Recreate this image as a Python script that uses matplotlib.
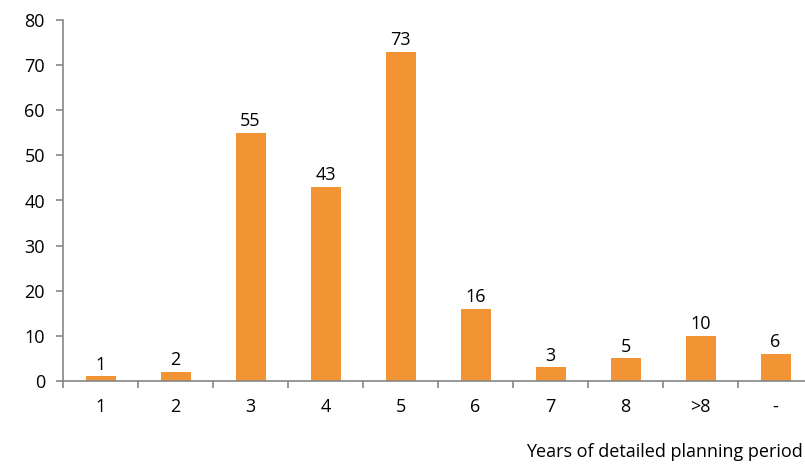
import matplotlib.pyplot as plt
from matplotlib.ticker import FixedLocator, NullFormatter

categories = ["1", "2", "3", "4", "5", "6", "7", "8", ">8", "-"]
counts = [1, 2, 55, 43, 73, 16, 3, 5, 10, 6]
y_ticks = [0, 10, 20, 30, 40, 50, 60, 70, 80]

plt.rcParams['font.family'] = ['Open Sans', 'DejaVu Sans']
axis_grey = "#868686"
bar_orange = "#F39434"
fs = 13

fig = plt.figure(figsize=(8.05, 4.65), dpi=100)
ax = fig.add_axes([63 / 805, 84 / 465, 742 / 805, 361 / 465])

x = list(range(len(categories)))
ax.bar(x, counts, width=0.4, color=bar_orange)

for xi, v in zip(x, counts):
    ax.annotate(str(v), (xi, v), xytext=(0, 2), textcoords="offset points",
                ha="center", va="bottom", fontsize=fs)

ax.set_xlim(-0.5, -0.5 + 742 / 75)
ax.set_ylim(0, 80)
ax.set_yticks(y_ticks)

# category labels centred, tick marks between categories
ax.set_xticks(x)
ax.set_xticklabels(categories, fontsize=fs)
ax.xaxis.set_minor_locator(FixedLocator([i - 0.5 for i in range(len(categories) + 1)]))
ax.xaxis.set_minor_formatter(NullFormatter())
ax.tick_params(axis="x", which="major", length=0, pad=12)
ax.tick_params(axis="x", which="minor", length=5, color=axis_grey, width=1.2)
ax.tick_params(axis="y", length=5, color=axis_grey, width=1.2, labelsize=fs, pad=8)

for side in ("top", "right"):
    ax.spines[side].set_visible(False)
for side in ("left", "bottom"):
    ax.spines[side].set_color(axis_grey)
    ax.spines[side].set_linewidth(1.2)

fig.text(803 / 805, 1 - 457 / 465, "Years of detailed planning period",
         ha="right", va="baseline", fontsize=fs)

fig.savefig("out.png", dpi=100)
